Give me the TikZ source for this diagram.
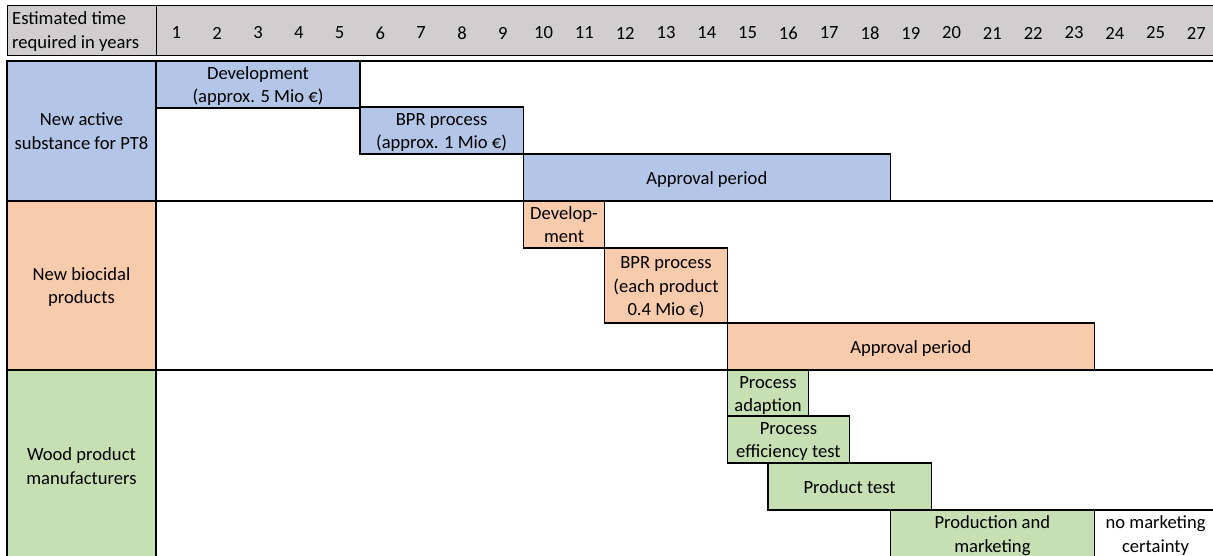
\documentclass[tikz,border=0pt]{standalone}
\usepackage{fontspec}
\setmainfont{Carlito}
\definecolor{hdrgray}{HTML}{D0CECE}
\definecolor{blueF}{HTML}{B4C6E7}
\definecolor{orangeF}{HTML}{F8CBAD}
\definecolor{greenF}{HTML}{C6E0B4}
\newcommand\topstr{\rule{0pt}{18.25pt}}
\newcommand\botstr{\rule[-5.25pt]{0pt}{5.25pt}}
\begin{document}
\begin{tikzpicture}[x=1pt,y=-1pt,
  font=\fontsize{18.6}{23.5}\selectfont,
  cell/.style={draw=black, line width=1.3pt, anchor=north west, inner sep=0pt, outer sep=0pt, align=center},
  rowhead/.style={draw=black, line width=1.8pt, anchor=north west, inner sep=0pt, outer sep=0pt, align=center, minimum width=149pt},
  hdrcell/.style={draw=black, line width=0.9pt, fill=hdrgray, anchor=north west, inner sep=0pt, outer sep=0pt, minimum height=50pt},
  yearlbl/.style={inner sep=0pt},
  sepline/.style={draw=black, line width=1.5pt}]
\useasboundingbox (0,0) rectangle (1213,555);
\clip (0,0) rectangle (1213,555);
% header
\node[hdrcell, minimum width=149pt] (hlab) at (7,5) {};
\node[hdrcell, minimum width=1070pt] (hyears) at (156,5) {};
\node[anchor=west, align=left, inner sep=0pt] (htext) at (12,30) {\topstr Estimated time\\required in years\botstr};
\foreach \i in {1,...,25} \node[yearlbl] (y\i) at ({156+40.8*(\i-0.5)},33) {\i};
\node[yearlbl] (y26) at ({156+40.8*25.5},33) {27};
% row heads
\node[rowhead, fill=blueF, minimum height=140pt] (rA) at (7,61) {\topstr New active\\substance for PT8\botstr};
\node[rowhead, fill=orangeF, minimum height=169pt] (rB) at (7,201) {\topstr New biocidal\\products\botstr};
\node[rowhead, fill=greenF, minimum height=192pt] (rC) at (7,370) {\topstr Wood product\\manufacturers\botstr};
% separators
\draw[sepline] (rA.north east) -- (1216,61);
\draw[sepline] (rA.south east) -- (1216,201);
\draw[sepline] (rB.south east) -- (1216,370);
% active substance
\node[cell, fill=blueF, minimum width=204pt, minimum height=46pt] (devA) at (156,61) {\topstr Development\\(approx. 5 Mio €)\botstr};
\node[cell, fill=blueF, minimum width=163.2pt, minimum height=47pt] (bprA) at (360,107) {\topstr BPR process\\(approx. 1 Mio €)\botstr};
\node[cell, fill=blueF, minimum width=367.2pt, minimum height=47pt] (appA) at (523.2,154) {\topstr Approval period\botstr};
% biocidal products
\node[cell, fill=orangeF, minimum width=81.6pt, minimum height=47pt] (devB) at (523.2,201) {\topstr Develop-\\ment\botstr};
\node[cell, fill=orangeF, minimum width=122.4pt, minimum height=75pt] (bprB) at (604.8,248) {\topstr BPR process\\(each product\\0.4 Mio €)\botstr};
\node[cell, fill=orangeF, minimum width=367.2pt, minimum height=47pt] (appB) at (727.2,323) {\topstr Approval period\botstr};
% wood product manufacturers
\node[cell, fill=greenF, minimum width=81.6pt, minimum height=46pt] (adapt) at (727.2,370) {\topstr Process\\adaption\botstr};
\node[cell, fill=greenF, minimum width=122.4pt, minimum height=47pt] (eff) at (727.2,416) {\topstr Process\\efficiency test\botstr};
\node[cell, fill=greenF, minimum width=163.2pt, minimum height=47pt] (ptest) at (768,463) {\topstr Product test\botstr};
\node[cell, fill=greenF, minimum width=204pt, minimum height=48pt] (prod) at (890.4,510) {\topstr Production and\\marketing\botstr};
\node[cell, fill=white, minimum width=122.4pt, minimum height=48pt] (nomkt) at (1094.4,510) {\topstr no marketing\\certainty\botstr};
\end{tikzpicture}
\end{document}
